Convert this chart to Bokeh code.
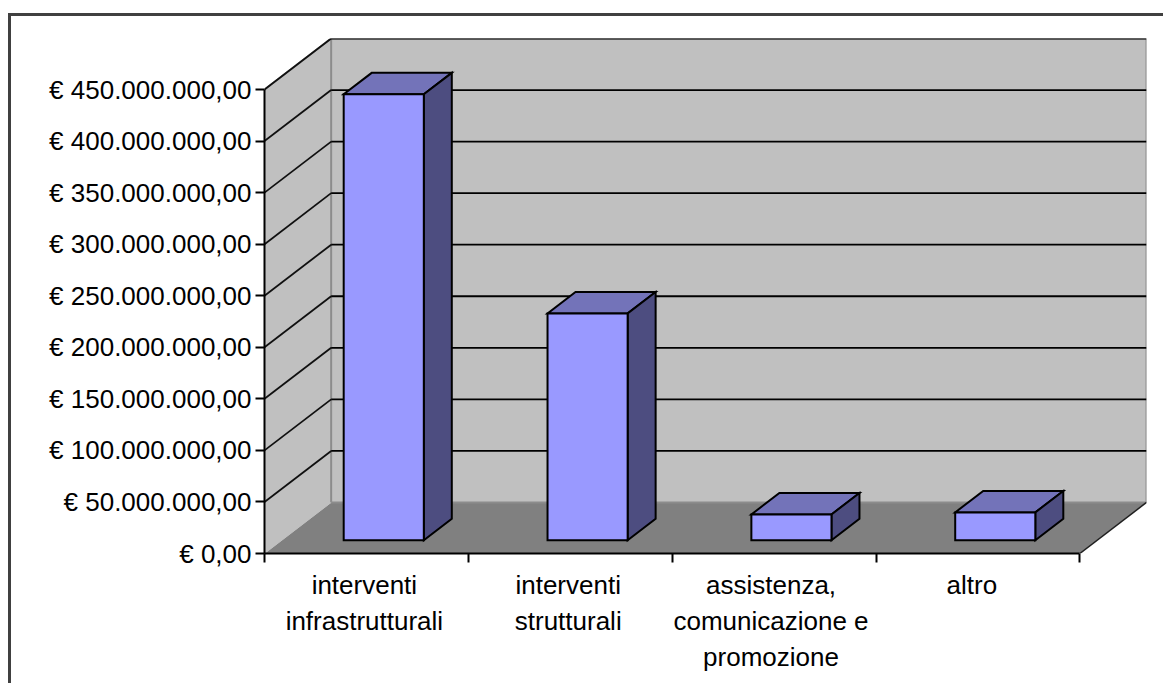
from bokeh.plotting import figure
from bokeh.models import FixedTicker, LinearAxis, Range1d
from bokeh.embed import file_html
from bokeh.resources import INLINE

categories = ["interventi\ninfrastrutturali", "interventi\nstrutturali",
              "assistenza,\ncomunicazione e\npromozione", "altro"]
values = [432_500_000, 220_000_000, 25_000_000, 27_000_000]
y_ticks = [0, 50_000_000, 100_000_000, 150_000_000, 200_000_000,
           250_000_000, 300_000_000, 350_000_000, 400_000_000, 450_000_000]
y_labels = ["€ 0,00", "€ 50.000.000,00", "€ 100.000.000,00", "€ 150.000.000,00",
            "€ 200.000.000,00", "€ 250.000.000,00", "€ 300.000.000,00",
            "€ 350.000.000,00", "€ 400.000.000,00", "€ 450.000.000,00"]
label_nudge = [-0.01, -0.01, -0.015, -0.03]

# oblique projection of the pseudo-3D chart, in data units
n = len(categories)
y_max = y_ticks[-1]
dx = 0.327            # full depth of the chart, categories
dy = 49_500_000       # full depth of the chart, euro
bar_w = 0.393
bar_start = 0.26      # depth fraction at which bars begin
bar_depth = 0.42      # depth fraction a bar occupies

WALL, FLOOR, EDGE = "#C0C0C0", "#808080", "#8C8C8C"
FRONT, TOP, SIDE = "#9999FF", "#7373B9", "#4D4D80"
FONT = "Liberation Sans"
FS = "26px"

# the frame's left and top sides are the figure's own CSS border
p = figure(width=1155, height=670, output_backend="svg", toolbar_location=None,
           x_range=Range1d(0, n + dx), y_range=Range1d(0, y_max + dy),
           x_axis_type=None, y_axis_type=None,
           min_border_left=253, min_border_right=20, min_border_top=22,
           min_border_bottom=133, outline_line_color=None,
           background_fill_color="white", border_fill_color="white")
p.margin = (13, 0, 0, 8)
p.styles = {"border-left": "3px solid #404040", "border-top": "3px solid #404040"}
p.grid.visible = False

# walls and floor
p.patch([0, dx, dx, 0], [0, dy, y_max + dy, y_max], fill_color=WALL, line_color=None)
p.patch([dx, n + dx, n + dx, dx], [dy, dy, y_max + dy, y_max + dy], fill_color=WALL, line_color=None)
p.patch([0, dx, n + dx, n], [0, dy, dy, 0], fill_color=FLOOR, line_color=None)
p.line([0, dx, n + dx, n + dx], [y_max, y_max + dy, y_max + dy, dy], line_color=EDGE, line_width=2)
p.line([dx, dx, n + dx], [y_max + dy, dy, dy], line_color=EDGE, line_width=2)
p.line([n, n + dx], [0, dy], line_color="#202020", line_width=1.5)
p.line([0, dx], [0, dy], line_color=WALL, line_width=1)

# gridlines on side wall and back wall
ticks = y_ticks[1:]
p.segment([0] * len(ticks), ticks, [dx] * len(ticks), [t + dy for t in ticks],
          line_color="#101010", line_width=1.8)
p.segment([dx] * len(ticks), [t + dy for t in ticks], [n + dx] * len(ticks),
          [t + dy for t in ticks], line_color="#000000", line_width=1.8)

# bars
ox, oy = bar_start * dx, bar_start * dy
bx, by = bar_depth * dx, bar_depth * dy
for i, v in enumerate(values):
    x0 = i + 0.5 + ox - bar_w / 2
    x1 = x0 + bar_w
    y0 = oy
    y1 = oy + v
    p.patch([x0, x1, x1 + bx, x0 + bx], [y1, y1, y1 + by, y1 + by],
            fill_color=TOP, line_color="black", line_width=2, line_join="miter")
    p.patch([x1, x1 + bx, x1 + bx, x1], [y0, y0 + by, y1 + by, y1],
            fill_color=SIDE, line_color="black", line_width=2, line_join="miter")
    p.patch([x0, x1, x1, x0], [y0, y0, y1, y1],
            fill_color=FRONT, line_color="black", line_width=2, line_join="miter")

# axes
yax = LinearAxis(ticker=FixedTicker(ticks=y_ticks),
                 major_label_overrides=dict(zip(y_ticks, y_labels)),
                 bounds=(0, y_max))
yax.axis_line_color = "black"
yax.axis_line_width = 2
yax.major_tick_line_color = "black"
yax.major_tick_line_width = 2
yax.major_tick_out = 9
yax.major_tick_in = 0
yax.minor_tick_line_color = None
yax.major_label_standoff = 4
yax.major_label_text_font = FONT
yax.major_label_text_font_size = FS
yax.major_label_text_color = "black"
p.add_layout(yax, "left")

centers = [i + 0.5 + label_nudge[i] for i in range(n)]
xax = LinearAxis(ticker=FixedTicker(ticks=centers, minor_ticks=list(range(n + 1))),
                 major_label_overrides=dict(zip(centers, categories)),
                 bounds=(0, n))
xax.axis_line_color = "black"
xax.axis_line_width = 2
xax.major_tick_line_color = None
xax.major_tick_out = 0
xax.major_tick_in = 0
xax.minor_tick_line_color = "black"
xax.minor_tick_line_width = 2
xax.minor_tick_out = 9
xax.minor_tick_in = 0
xax.major_label_standoff = 7
xax.major_label_text_font = FONT
xax.major_label_text_font_size = FS
xax.major_label_text_color = "black"
p.add_layout(xax, "below")

open("out.html", "w").write(file_html(p, INLINE))
